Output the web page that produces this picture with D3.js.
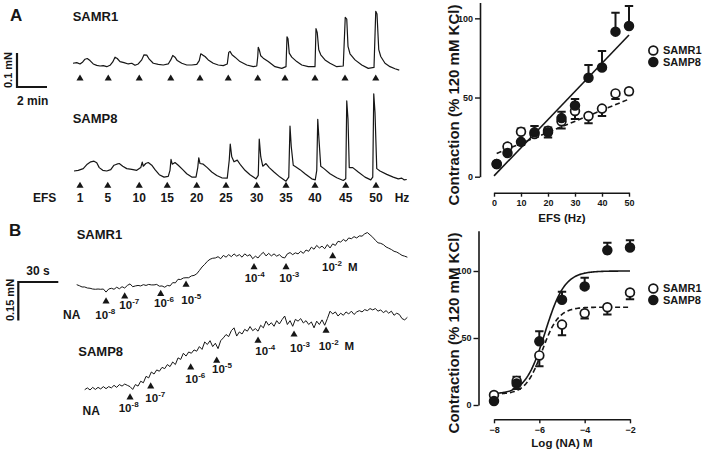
<!DOCTYPE html>
<html><head><meta charset="utf-8">
<script src="https://cdn.jsdelivr.net/npm/d3@7"></script>
<style>
body{margin:0;background:#fff}
svg text{font-family:"Liberation Sans",Arial,sans-serif;font-weight:bold;fill:#161616}
</style></head>
<body><svg id="c" width="709" height="452"></svg>
<script>
// ---------------- DATA ----------------
// Panel A, right: EFS frequency-response (% of 120 mM KCl)
const efsHz = [1,5,10,15,20,25,30,35,40,45,50];
const efsR1 = [8,19,28.4,27,29,35,41.5,38.3,43,52.6,54];
const efsR1Err = [1,1.5,2,2,2,4.5,5,4.6,4.7,3.6,2];
const efsP8 = [8,15,22,28,28,37,45,62.5,69,91.6,95.2];
const efsP8Err = [1,1,2,4,3.2,4,4,8,10.4,12,12.6];
const efsFitR1 = [0.7, 14];    // slope, intercept (linear regression)
const efsFitP8 = [1.78, 0.5];
const efsTicksX = [0,10,20,30,40,50];
const contTicks = [0,50,100];

// Panel B, right: noradrenaline concentration-response
const logNA = [-8,-7,-6,-5,-4,-3,-2];
const naR1 = [7.5,18,37,60,68.5,73,84];
const naR1Err = [1,3,8,8,4,5.5,5];
const naP8 = [3,16,47.5,78.5,88.5,115.5,117.5];
const naP8Err = [1,4,7.5,6,6.5,5.5,5.5];
const naFitR1 = [8,73,-5.875,1.2];   // bottom, top, logEC50, Hill slope
const naFitP8 = [8,100,-5.75,1.0];
const naTicksX = [-8,-6,-4,-2];

// Panel A, left: isometric traces (time s, force µN above baseline)
const traceA_R1 = [[0,8],[15,10],[28,6],[39,12],[48,20],[57,22],[68,16],[81,6],[95,2],[108,0],[121,1],[135,-2],[148,2],[159,12],[168,26],[177,22],[188,13],[204,10],[221,6],[235,8],[248,2],[261,6],[275,18],[284,33],[295,32],[305,20],[321,8],[341,5],[361,3],[381,6],[391,18],[399,31],[408,26],[417,16],[435,8],[455,3],[475,3],[495,5],[505,16],[511,36],[519,32],[528,28],[541,18],[561,8],[581,3],[601,1],[617,6],[623,40],[628,43],[636,33],[648,26],[668,13],[695,3],[721,-2],[735,0],[739,28],[741,55],[745,48],[751,30],[761,23],[781,13],[808,-2],[835,-7],[852,-2],[856,86],[860,80],[865,38],[875,26],[895,13],[915,3],[941,-2],[968,-2],[972,110],[977,98],[983,48],[991,33],[1008,18],[1028,8],[1055,-2],[1081,0],[1089,143],[1095,138],[1100,58],[1108,36],[1128,18],[1155,3],[1181,-7],[1204,-4],[1211,161],[1216,153],[1223,48],[1231,28],[1248,8],[1268,-2],[1288,-8],[1305,-12]];
const traceA_P8 = [[4,0],[21,2],[41,7],[57,20],[71,27],[84,29],[95,24],[105,10],[119,2],[135,0],[151,4],[164,17],[175,20],[185,22],[199,14],[215,7],[235,5],[255,2],[271,10],[277,26],[281,14],[291,22],[301,25],[315,17],[328,4],[345,-11],[364,-18],[381,-16],[388,2],[392,34],[397,20],[408,25],[421,17],[439,4],[455,-8],[475,-18],[492,-18],[499,10],[503,39],[508,22],[521,20],[537,10],[555,-3],[575,-13],[595,-20],[617,-21],[625,32],[629,79],[635,42],[644,27],[657,32],[671,17],[688,2],[708,-11],[732,-23],[741,-13],[745,94],[751,42],[759,14],[772,22],[785,10],[804,-3],[828,-18],[852,-30],[863,-18],[868,132],[873,72],[881,17],[892,12],[908,4],[928,-8],[955,-23],[969,-26],[975,2],[979,152],[984,92],[991,14],[1004,7],[1028,-8],[1055,-20],[1081,-28],[1091,-23],[1095,206],[1100,152],[1105,10],[1119,10],[1141,-3],[1168,-18],[1191,-26],[1199,-18],[1203,227],[1208,172],[1215,7],[1228,0],[1255,-10],[1281,-18],[1301,-23],[1315,-21],[1324,-26],[1335,-25]];
const efsLabels = ["1","5","10","15","20","25","30","35","40","45","50"];
const stimTimeR1 = [28,141,265,391,508,621,739,848,968,1088,1211];
const stimTimeP8 = [28,139,265,377,495,612,735,852,968,1091,1212];

// Panel B, left: traces sampled every 2 s (force µN above baseline)
const dtB = 2;
const traceB_R1_t0 = 0;
const traceB_R1 = [13,9,4,4,0,-1,-4,-5,-4,-5,-4,-16,-4,-1,-5,3,-3,5,0,10,16,5,8,10,8,13,10,14,12,12,14,7,8,3,10,8,21,20,34,33,39,40,40,47,49,55,68,82,92,104,112,116,117,122,114,127,120,130,122,133,124,130,120,133,125,130,114,124,117,130,139,125,135,125,133,124,130,120,117,133,138,130,137,133,143,135,148,143,159,151,166,156,163,153,169,156,172,166,182,179,189,182,195,192,200,195,203,202,211,216,207,198,186,176,174,169,160,155,150,143,140,134,127,124,120];
const traceB_P8_t0 = 6;
const traceB_P8 = [0,7,-1,9,1,9,3,12,4,12,7,17,9,20,14,22,17,12,1,20,14,33,27,52,46,69,61,77,72,87,82,98,90,108,98,124,118,142,131,147,142,155,150,168,157,186,176,191,168,181,160,191,202,215,207,230,241,209,225,217,235,228,246,230,238,228,251,241,267,251,261,247,269,256,273,287,254,269,247,274,267,277,260,269,254,264,241,267,254,272,251,277,306,295,303,287,298,290,303,295,306,293,303,308,303,312,308,316,311,316,306,311,300,308,298,306,290,298,293,277,272,282];
const naDoseExp = ["-8","-7","-6","-5","-4","-3","-2"];
const addTimeR1 = [22,36,63,82,133,157,192];
const addLevelR1 = [-52,-33,-23,13,81,81,124];
const lblTimeR1 = [14,32,58,78.5,126,152,184];
const lblLevelR1 = [-120,-81,-74,-61,23,23,65];
const addTimeP8 = [40,55.5,85.5,105,136,163,187];
const addLevelP8 = [-30,13,87,113,191,215,230];
const lblTimeP8 = [31.5,51.5,81.5,101.5,134,160,181.5];
const lblLevelP8 = [-87,-46,26,65,137,147,153];

// ---------------- DRAW ----------------
const svg = d3.select("#c");
const ink = "#161616";

function txt(x, y, s, size, opts = {}) {
  const t = svg.append("text").attr("x", x).attr("y", y).attr("font-size", size).text(s);
  if (opts.anchor) t.attr("text-anchor", opts.anchor);
  if (opts.rot) t.attr("transform", `rotate(-90,${x},${y})`);
  return t;
}
function pow10(x, y, exp, suffix) {
  const t = svg.append("text").attr("x", x).attr("y", y).attr("font-size", 11.5);
  t.append("tspan").text("10");
  t.append("tspan").attr("dy", -5).attr("font-size", 8).text(exp);
  if (suffix) t.append("tspan").attr("dy", 5).attr("font-size", 11.5).attr("dx", 6).text(suffix);
}
const tri = d3.symbol().type(d3.symbolTriangle).size(22);

// ---- Panel A traces ----
const xA = d3.scaleLinear().domain([0, 120]).range([73, 103]);
const yAR1 = d3.scaleLinear().domain([0, 100]).range([66, 32]);
const yAP8 = d3.scaleLinear().domain([0, 100]).range([171, 137]);
const lineA = (ys) => d3.line().x(d => xA(d[0])).y(d => ys(d[1]));
svg.append("path").datum(traceA_R1).attr("d", lineA(yAR1)).attr("fill","none").attr("stroke",ink).attr("stroke-width",1.2).attr("stroke-linejoin","round");
svg.append("path").datum(traceA_P8).attr("d", lineA(yAP8)).attr("fill","none").attr("stroke",ink).attr("stroke-width",1.2).attr("stroke-linejoin","round");
stimTimeR1.forEach(t => svg.append("path").attr("d", tri).attr("transform", `translate(${xA(t)},78.5)`).attr("fill", ink));
stimTimeP8.forEach(t => svg.append("path").attr("d", tri).attr("transform", `translate(${xA(t)},185.8)`).attr("fill", ink));
txt(33, 202, "EFS", 12);
efsLabels.forEach((s, i) => txt(xA(stimTimeP8[i]), 202, s, 12, {anchor: "middle"}));
txt(402, 202, "Hz", 12, {anchor: "middle"});
txt(10, 21, "A", 17);
txt(72.7, 21.3, "SAMR1", 13);
txt(72.7, 123, "SAMP8", 13);
// scale bar A: 0.1 mN / 2 min
const sbA = {x: 17, y: 87};
svg.append("path").attr("d", `M${sbA.x},${sbA.y - (yAR1(0) - yAR1(100))}V${sbA.y}H${sbA.x + (xA(120) - xA(0))}`)
  .attr("fill","none").attr("stroke",ink).attr("stroke-width",2.2);
txt(11.5, 70, "0.1 mN", 11, {anchor: "middle", rot: true});
txt(17, 104.5, "2 min", 12);

// ---- Panel B traces ----
const xB = d3.scaleLinear().domain([0, 30]).range([76.7, 116.7]);
const yBR1 = d3.scaleLinear().domain([0, 150]).range([288, 249.5]);
const yBP8 = d3.scaleLinear().domain([0, 150]).range([389.7, 351.2]);
const lineB = (ys, t0) => d3.line().x((d, i) => xB(t0 + i * dtB)).y(d => ys(d));
svg.append("path").datum(traceB_R1).attr("d", lineB(yBR1, traceB_R1_t0)).attr("fill","none").attr("stroke",ink).attr("stroke-width",1);
svg.append("path").datum(traceB_P8).attr("d", lineB(yBP8, traceB_P8_t0)).attr("fill","none").attr("stroke",ink).attr("stroke-width",1);
addTimeR1.forEach((t, i) => svg.append("path").attr("d", tri).attr("transform", `translate(${xB(t)},${yBR1(addLevelR1[i])})`).attr("fill", ink));
addTimeP8.forEach((t, i) => svg.append("path").attr("d", tri).attr("transform", `translate(${xB(t)},${yBP8(addLevelP8[i])})`).attr("fill", ink));
naDoseExp.forEach((e, i) => pow10(xB(lblTimeR1[i]), yBR1(lblLevelR1[i]), e, i === 6 ? "M" : null));
naDoseExp.forEach((e, i) => pow10(xB(lblTimeP8[i]), yBP8(lblLevelP8[i]), e, i === 6 ? "M" : null));
txt(63, 319, "NA", 12);
txt(82.5, 415, "NA", 12);
txt(9, 235.5, "B", 17);
txt(76.7, 239.4, "SAMR1", 13);
txt(78.3, 356, "SAMP8", 13);
const sbB = {x: 18.3, y: 282};
svg.append("path").attr("d", `M${sbB.x + (xB(30) - xB(0))},${sbB.y}H${sbB.x}V${sbB.y + (yBR1(0) - yBR1(150))}`)
  .attr("fill","none").attr("stroke",ink).attr("stroke-width",2.2);
txt(38, 275, "30 s", 12, {anchor: "middle"});
txt(13.5, 300, "0.15 mN", 11, {anchor: "middle", rot: true});

// ---- Right charts ----
function styleAxis(g) {
  g.select(".domain").attr("stroke", ink).attr("stroke-width", 1.6);
  g.selectAll(".tick line").attr("stroke", ink).attr("stroke-width", 1.4);
  g.selectAll(".tick text").attr("font-size", 9).attr("fill", ink)
   .style("font-family", '"Liberation Sans",Arial,sans-serif').style("font-weight", "bold");
}
function xyChart(o) {
  const g = svg.append("g");
  g.append("g").attr("transform", `translate(${o.axisX},0)`)
    .call(d3.axisLeft(o.y).tickValues(contTicks).tickSize(5).tickSizeOuter(0).tickPadding(2)).call(styleAxis);
  g.append("g").attr("transform", `translate(0,${o.axisY})`)
    .call(d3.axisBottom(o.x).tickValues(o.ticksX).tickFormat(d3.format("d")).tickSize(4).tickSizeOuter(0).tickPadding(3)).call(styleAxis);
  // fits
  o.fits.forEach(f => g.append("path").datum(f.pts).attr("fill","none").attr("stroke",ink)
    .attr("stroke-width",1.6).attr("stroke-dasharray", f.dash ? "5,3" : null)
    .attr("d", d3.line().x(d => o.x(d[0])).y(d => o.y(d[1]))));
  // error bars then markers
  const groups = [
    {v: o.r1, e: o.r1e, other: o.p8, filled: false},
    {v: o.p8, e: o.p8e, other: o.r1, filled: true}
  ];
  groups.forEach(gr => gr.v.forEach((v, i) => {
    const dir = (gr.filled ? v >= gr.other[i] : v > gr.other[i]) ? 1 : -1;
    const xp = o.x(o.xs[i]), y0 = o.y(v), y1 = o.y(v + dir * gr.e[i]);
    g.append("path").attr("d", `M${xp},${y0}V${y1}M${xp - 4.2},${y1}H${xp + 4.2}`)
      .attr("stroke", ink).attr("stroke-width", 2).attr("fill", "none");
  }));
  groups.forEach(gr => gr.v.forEach((v, i) => {
    g.append("circle").attr("cx", o.x(o.xs[i])).attr("cy", o.y(v)).attr("r", 4.4)
      .attr("fill", gr.filled ? ink : "#fff").attr("stroke", ink).attr("stroke-width", 1.7);
  }));
  // labels
  txt(o.xLabelX, o.xLabelY, o.xLabel, 11.5, {anchor: "middle"});
  txt(453.5, o.yLabelY, "Contraction (% 120 mM KCl)", 15, {anchor: "middle", rot: true}).attr("dy", "0.35em");
  // legend
  [["SAMR1", false], ["SAMP8", true]].forEach((d, k) => {
    const cy = o.legY + k * 11.5;
    g.append("circle").attr("cx", 653.3).attr("cy", cy).attr("r", 4.4)
      .attr("fill", d[1] ? ink : "#fff").attr("stroke", ink).attr("stroke-width", 1.7);
    txt(663, cy + 3.9, d[0], 11);
  });
}

const efsX = d3.scaleLinear().domain([0, 50]).range([494, 629]);
const efsY = d3.scaleLinear().domain([0, 110]).range([176.7, 2.5]);
const lin = (p, a, b) => [[a, p[0] * a + p[1]], [b, p[0] * b + p[1]]];
xyChart({
  x: efsX, y: efsY, axisX: 480, axisY: 192.7, ticksX: efsTicksX,
  xs: efsHz, r1: efsR1, r1e: efsR1Err, p8: efsP8, p8e: efsP8Err,
  fits: [{pts: lin(efsFitP8, 0, 50), dash: false}, {pts: lin(efsFitR1, 1, 50), dash: true}],
  xLabel: "EFS (Hz)", xLabelX: 562, xLabelY: 222, yLabelY: 105, legY: 50.5
});

const naX = d3.scaleLinear().domain([-8, -2]).range([494, 630]);
const naY = d3.scaleLinear().domain([0, 130]).range([405, 230.8]);
const sig = (p) => d3.range(-8, -1.99, 0.05).map(x => [x, p[0] + (p[1] - p[0]) / (1 + Math.pow(10, (p[2] - x) * p[3]))]);
xyChart({
  x: naX, y: naY, axisX: 478.5, axisY: 419.3, ticksX: naTicksX,
  xs: logNA, r1: naR1, r1e: naR1Err, p8: naP8, p8e: naP8Err,
  fits: [{pts: sig(naFitP8), dash: false}, {pts: sig(naFitR1), dash: true}],
  xLabel: "Log (NA) M", xLabelX: 562, xLabelY: 447, yLabelY: 333, legY: 288.5
});
</script></body></html>
